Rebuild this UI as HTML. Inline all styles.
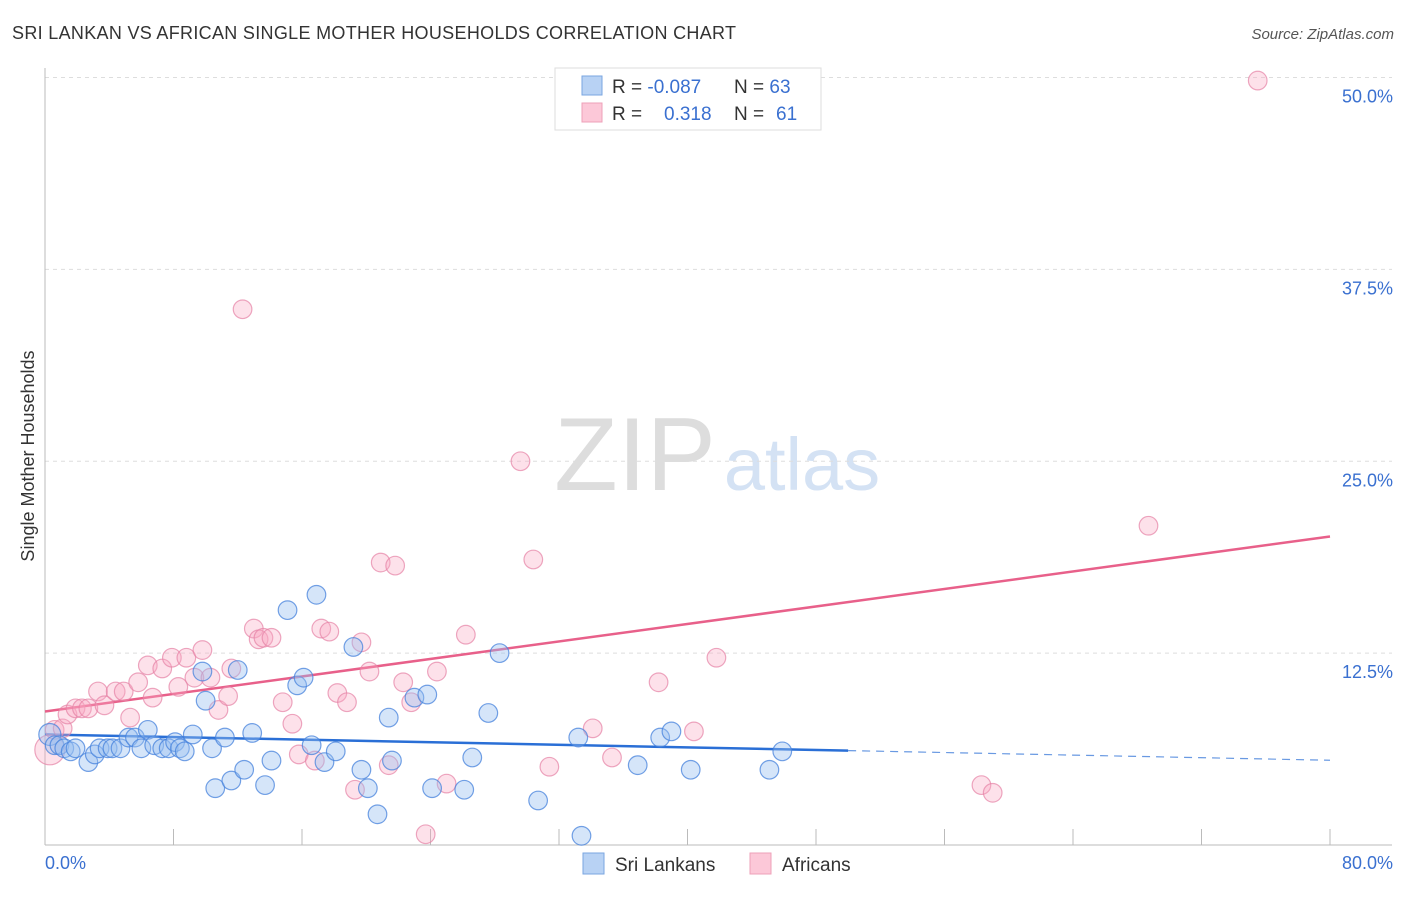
<!DOCTYPE html>
<html><head><meta charset="utf-8"><style>
body{margin:0;background:#fff;font-family:"Liberation Sans",sans-serif;}
svg text{font-family:"Liberation Sans",sans-serif;}
</style></head><body>
<svg id="chart" width="1406" height="892" xmlns="http://www.w3.org/2000/svg">
<text x="12" y="39" font-size="18" fill="#333" textLength="724">SRI LANKAN VS AFRICAN SINGLE MOTHER HOUSEHOLDS CORRELATION CHART</text>
<text x="1394" y="39" font-size="15" fill="#555" text-anchor="end" font-style="italic">Source: ZipAtlas.com</text>
<g>
<text x="635" y="490" font-size="104" fill="#ddd" text-anchor="middle" font-family="Liberation Serif,serif">ZIP</text>
<text x="802" y="490" font-size="74" fill="#d4e2f4" text-anchor="middle">atlas</text>
</g>
<g id="grid"></g>
<g id="axes"></g>
<g id="lines"></g>
<g id="pts"></g>
<text transform="translate(34,456) rotate(-90)" font-size="18" fill="#333" text-anchor="middle">Single Mother Households</text>
<g>
<rect x="555" y="68" width="266" height="62" fill="#fff" stroke="#ddd"/>
<rect x="582" y="76" width="20" height="19" fill="#b8d2f4" stroke="#7aa6e0"/>
<rect x="582" y="103" width="20" height="19" fill="#fcc8d8" stroke="#eea0b8"/>
<text x="612" y="93" font-size="19" fill="#333">R = <tspan fill="#3a70d0">-0.087</tspan></text>
<text x="734" y="93" font-size="19" fill="#333">N = <tspan fill="#3a70d0">63</tspan></text>
<text x="612" y="120" font-size="19" fill="#333">R = </text>
<text x="664" y="120" font-size="19" fill="#3a70d0">0.318</text>
<text x="734" y="120" font-size="19" fill="#333">N = </text>
<text x="776" y="120" font-size="19" fill="#3a70d0">61</text>
</g>
<g>
<rect x="583" y="853" width="21" height="21" fill="#b8d2f4" stroke="#7aa6e0"/>
<text x="615" y="871" font-size="19" fill="#333">Sri Lankans</text>
<rect x="750" y="853" width="21" height="21" fill="#fcc8d8" stroke="#eea0b8"/>
<text x="782" y="871" font-size="19" fill="#333">Africans</text>
</g>
</svg>
<script>
const blueX=[0.3,0.6,0.9,1.2,1.6,1.9,2.7,3.1,3.4,3.9,4.2,4.7,5.2,5.6,6.0,6.4,6.8,7.3,7.7,8.1,8.4,8.7,9.2,10.0,9.8,10.4,10.6,11.2,11.6,12.0,12.4,12.9,13.7,14.1,15.1,15.7,16.1,16.6,16.9,17.4,18.1,19.2,19.7,20.1,20.7,21.4,21.6,23.0,23.8,24.1,26.1,26.6,27.6,28.3,30.7,33.2,33.4,36.9,38.3,39.0,40.2,45.1,45.9];
const blueY=[7.2,6.5,6.5,6.3,6.1,6.3,5.4,5.9,6.3,6.3,6.3,6.3,7.0,7.0,6.3,7.5,6.5,6.3,6.3,6.7,6.3,6.1,7.2,9.4,11.3,6.3,3.7,7.0,4.2,11.4,4.9,7.3,3.9,5.5,15.3,10.4,10.9,6.5,16.3,5.4,6.1,12.9,4.9,3.7,2.0,8.3,5.5,9.6,9.8,3.7,3.6,5.7,8.6,12.5,2.9,7.0,0.6,5.2,7.0,7.4,4.9,4.9,6.1];
const pinkX=[0.3,0.6,1.1,1.4,1.9,2.3,2.7,3.3,3.7,4.4,4.9,5.3,5.8,6.4,6.7,7.3,7.9,8.3,8.8,9.3,9.8,10.3,10.8,11.4,11.6,12.3,13.0,13.3,13.6,14.1,14.8,15.4,15.8,16.8,17.2,17.7,18.2,18.8,19.3,19.7,20.2,20.9,21.4,21.8,22.3,22.8,23.7,24.4,25.0,26.2,29.6,30.4,31.4,34.1,35.3,38.2,40.4,41.8,58.3,59.0,68.7,75.5];
const pinkY=[6.2,7.5,7.6,8.5,8.9,8.9,8.9,10.0,9.1,10.0,10.0,8.3,10.6,11.7,9.6,11.5,12.2,10.3,12.2,10.9,12.7,10.9,8.8,9.7,11.5,34.9,14.1,13.4,13.5,13.5,9.3,7.9,5.9,5.5,14.1,13.9,9.9,9.3,3.6,13.2,11.3,18.4,5.2,18.2,10.6,9.3,0.7,11.3,4.0,13.7,25.0,18.6,5.1,7.6,5.7,10.6,7.4,12.2,3.9,3.4,20.8,49.8];
const yTicks=[12.5,25.0,37.5,50.0];
const yTickLabels=["12.5%","25.0%","37.5%","50.0%"];
const xTicks=[0,8,16,24,32,40,48,56,64,72,80];
const blueTrend=[7.2,-0.021];
const pinkTrend=[8.7,0.1425];
const blueSolidEnd=50;

const NS="http://www.w3.org/2000/svg";
const sx=v=>45+v*1285/80;
const sy=v=>845-v*15.35;
function mk(tag,attrs,parent){const e=document.createElementNS(NS,tag);for(const k in attrs)e.setAttribute(k,attrs[k]);document.getElementById(parent).appendChild(e);return e;}

yTicks.forEach((t,i)=>{
  const l=mk('line',{x1:45,x2:1392,y1:sy(t),y2:sy(t),stroke:'#ddd','stroke-dasharray':'4,4'},'grid');
  
  
  const tx=mk('text',{x:1393,y:sy(t)+25,'font-size':18,fill:'#3a70d0','text-anchor':'end'},'grid');
  tx.textContent=yTickLabels[i];
  
  
});
const ya=mk('line',{x1:45,x2:45,y1:68,y2:845,stroke:'#bbb'},'axes');


const xa=mk('line',{x1:45,x2:1392,y1:845,y2:845,stroke:'#bbb'},'axes');


xTicks.forEach(t=>{
  const l=mk('line',{x1:sx(t),x2:sx(t),y1:829,y2:845,stroke:'#bbb'},'axes');
  
  
});
const x0=mk('text',{x:45,y:869,'font-size':18,fill:'#3a70d0'},'axes');x0.textContent='0.0%';


const x1=mk('text',{x:1393,y:869,'font-size':18,fill:'#3a70d0','text-anchor':'end'},'axes');x1.textContent='80.0%';



function dot(x,y,fill,stroke,r){
  return mk('circle',{cx:sx(x),cy:sy(y),r:r,fill:fill,stroke:stroke,'stroke-width':1.2},'pts');
}
pinkX.forEach((x,i)=>{
  const c=dot(x,pinkY[i],'rgba(248,170,195,0.35)','rgba(230,130,165,0.7)',i===0?15:9.3);
  
  
});
blueX.forEach((x,i)=>{
  const c=dot(x,blueY[i],'rgba(150,190,240,0.4)','rgba(70,130,220,0.75)',i===0?11:9.3);
  
  
});
const bt=v=>blueTrend[0]+blueTrend[1]*v, pt=v=>pinkTrend[0]+pinkTrend[1]*v;
const b1=mk('line',{x1:sx(0),y1:sy(bt(0)),x2:sx(blueSolidEnd),y2:sy(bt(blueSolidEnd)),stroke:'#2a6fd6','stroke-width':2.5},'lines');


const b2=mk('line',{x1:sx(blueSolidEnd),y1:sy(bt(blueSolidEnd)),x2:sx(80),y2:sy(bt(80)),stroke:'#2a6fd6','stroke-width':1.2,'stroke-dasharray':'8,6','opacity':0.7},'lines');


const p1=mk('line',{x1:sx(0),y1:sy(pt(0)),x2:sx(80),y2:sy(pt(80)),stroke:'#e8608a','stroke-width':2.5},'lines');


</script>
</body></html>
